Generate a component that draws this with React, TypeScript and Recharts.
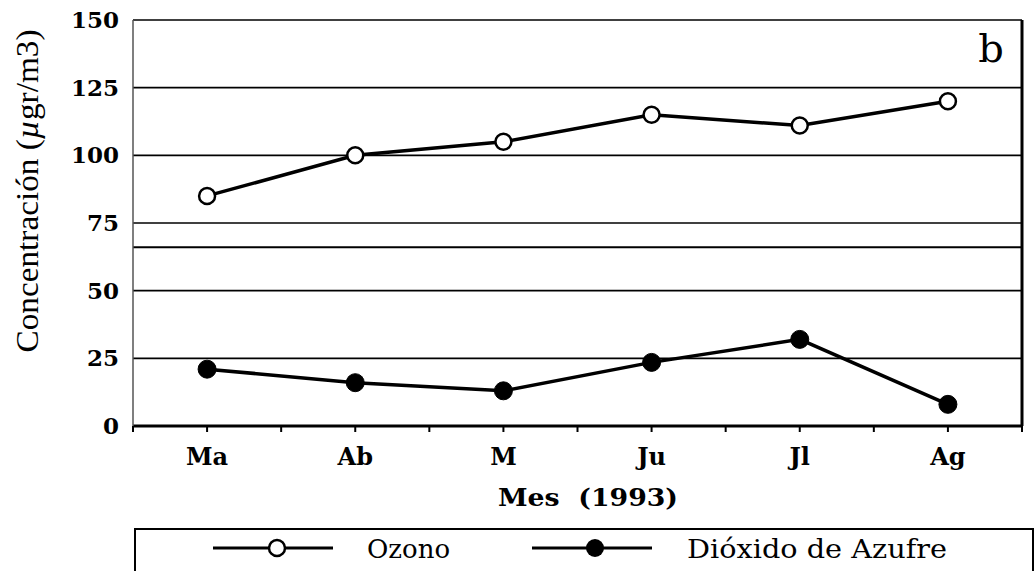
import React from "react";
import {
  LineChart,
  Line,
  XAxis,
  YAxis,
  CartesianGrid,
  ReferenceLine,
} from "recharts";

const months = ["Ma", "Ab", "M", "Ju", "Jl", "Ag"];
const ozono = [85, 100, 105, 115, 111, 120];
const dioxido = [21, 16, 13, 23.5, 32, 8];
const yTicks = [0, 25, 50, 75, 100, 125, 150];
const xTicks = [-0.5, 0, 0.5, 1, 1.5, 2, 2.5, 3, 3.5, 4, 4.5, 5, 5.5];
const refValue = 66;
const seriesNames = ["Ozono", "Dióxido de Azufre"];

const data = months.map((m, i) => ({
  idx: i,
  month: m,
  ozono: ozono[i],
  dioxido: dioxido[i],
}));

const SERIF = "'DejaVu Serif', 'Liberation Serif', serif";
const TIMES = "'Liberation Serif', 'Times New Roman', serif";

const fmtX = (v: number) => (Number.isInteger(v) ? months[v] ?? "" : "");

export default function App() {
  return (
    <div style={{ position: "absolute", left: 0, top: 0, width: 1036, height: 571, background: "#fff" }}>
      <LineChart
        width={1036}
        height={571}
        data={data}
        margin={{ top: 20, right: 0, left: 0, bottom: 105 }}
      >
        <CartesianGrid
          horizontal
          vertical={false}
          stroke="#000"
          strokeWidth={1.6}
          strokeOpacity={1}
        />
        <ReferenceLine y={refValue} stroke="#000" strokeWidth={2} />
        <XAxis
          dataKey="idx"
          type="number"
          domain={[-0.5, 5.5]}
          ticks={xTicks}
          interval={0}
          tickFormatter={fmtX}
          axisLine={{ stroke: "#000", strokeWidth: 3 }}
          tickLine={{ stroke: "#000", strokeWidth: 2 }}
          tickSize={6}
          tickMargin={16}
          height={40}
          tick={{ fill: "#000", fontFamily: SERIF, fontWeight: 700, fontSize: 24 }}
        />
        <YAxis
          domain={[0, 150]}
          ticks={yTicks}
          interval={0}
          width={133}
          axisLine={{ stroke: "#555", strokeWidth: 1.5 }}
          tickLine={false}
          tickSize={6}
          tickMargin={8}
          tick={{ fill: "#000", fontFamily: SERIF, fontWeight: 700, fontSize: 23 }}
        />
        <YAxis
          yAxisId="right"
          orientation="right"
          domain={[0, 150]}
          ticks={yTicks}
          interval={0}
          width={14}
          axisLine={{ stroke: "#000", strokeWidth: 3 }}
          tickLine={{ stroke: "#000", strokeWidth: 2 }}
          tickSize={10}
          tickFormatter={() => ""}
        />
        <Line
          type="linear"
          dataKey="ozono"
          name={seriesNames[0]}
          stroke="#000"
          strokeWidth={3.5}
          dot={{ r: 8, fill: "#fff", stroke: "#000", strokeWidth: 2.5 }}
          isAnimationActive={false}
        />
        <Line
          type="linear"
          dataKey="dioxido"
          name={seriesNames[1]}
          stroke="#000"
          strokeWidth={3.5}
          dot={{ r: 9, fill: "#000", stroke: "#000", strokeWidth: 1 }}
          isAnimationActive={false}
        />
      </LineChart>
      <svg
        width={1036}
        height={571}
        style={{ position: "absolute", left: 0, top: 0, pointerEvents: "none" }}
      >
        <text x={991} y={62} textAnchor="middle" fontFamily={SERIF} fontSize={40} fill="#000">
          b
        </text>
        <text
          x={0}
          y={0}
          transform="translate(38,191) rotate(-90)"
          textAnchor="middle"
          fontFamily={TIMES}
          fontSize={31}
          fill="#000"
          textLength={323}
          lengthAdjust="spacingAndGlyphs"
        >
          Concentración (<tspan fontStyle="italic">µ</tspan>gr/m3)
        </text>
        <text
          x={588}
          y={506}
          textAnchor="middle"
          fontFamily={SERIF}
          fontWeight={700}
          fontSize={25}
          fill="#000"
          style={{ whiteSpace: "pre" }}
          textLength={180}
          lengthAdjust="spacingAndGlyphs"
        >
          {"Mes  (1993)"}
        </text>
        <rect x={135} y={529} width={898} height={60} fill="none" stroke="#000" strokeWidth={2} />
        <line x1={213} y1={548} x2={333} y2={548} stroke="#000" strokeWidth={3} />
        <circle cx={277} cy={548} r={8} fill="#fff" stroke="#000" strokeWidth={2.5} />
        <text x={367} y={558} fontFamily={SERIF} fontSize={26} fill="#000">
          {seriesNames[0]}
        </text>
        <line x1={532} y1={548} x2={652} y2={548} stroke="#000" strokeWidth={3} />
        <circle cx={595} cy={548} r={9} fill="#000" />
        <text
          x={687}
          y={558}
          fontFamily={SERIF}
          fontSize={26}
          fill="#000"
          textLength={260}
          lengthAdjust="spacingAndGlyphs"
        >
          {seriesNames[1]}
        </text>
      </svg>
    </div>
  );
}
